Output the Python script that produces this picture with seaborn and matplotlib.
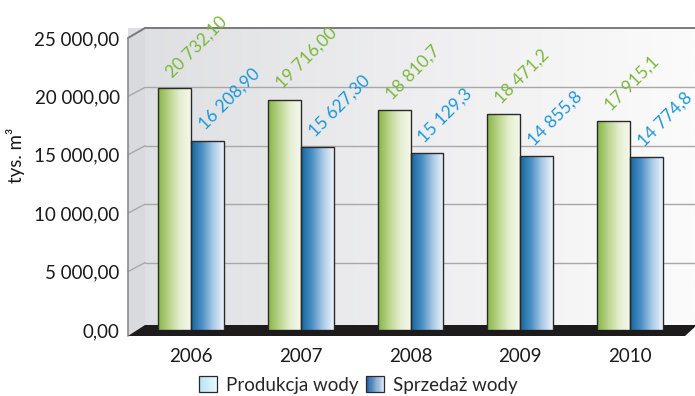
import numpy as np
import pandas as pd
import matplotlib
matplotlib.use("Agg")
import matplotlib.pyplot as plt
import seaborn as sns
from matplotlib.patches import Polygon, Rectangle, Patch
from matplotlib.colors import LinearSegmentedColormap, to_rgb
from matplotlib.legend_handler import HandlerBase
from matplotlib.ticker import FuncFormatter

# ---- data ----
years = ["2006", "2007", "2008", "2009", "2010"]
produkcja = [20732.10, 19716.00, 18810.7, 18471.2, 17915.1]
sprzedaz = [16208.90, 15627.30, 15129.3, 14855.8, 14774.8]
produkcja_labels = ["20 732,10", "19 716,00", "18 810,7", "18 471,2", "17 915,1"]
sprzedaz_labels = ["16 208,90", "15 627,30", "15 129,3", "14 855,8", "14 774,8"]
series_names = ["Produkcja wody", "Sprzedaż wody"]
y_ticks = [0, 5000, 10000, 15000, 20000, 25000]

df = pd.DataFrame({
    "rok": years * 2,
    "seria": [series_names[0]] * 5 + [series_names[1]] * 5,
    "wartosc": produkcja + sprzedaz,
})

sns.set_theme(style="white")
plt.rcParams["font.family"] = ["Lato", "DejaVu Sans"]

W, H = 695, 396
fig = plt.figure(figsize=(W / 100, H / 100), dpi=100)

# pixel geometry
AX_L, AX_R, AX_T, AX_B = 128, 695, 38, 330
DX, DY = 17, 10  # 3D depth offset


def fx(px):
    return (px - AX_L) / (AX_R - AX_L)


def fy(py):
    return (AX_B - py) / (AX_B - AX_T)


# background wall
bg = fig.add_axes([AX_L / W, (H - 336) / H, (AX_R - AX_L) / W, (336 - 28) / H], zorder=-1)
wall = LinearSegmentedColormap.from_list("wall", ["#dedfe2", "#eeeef0", "#fbfbfb"])
grad = np.linspace(0, 1, 256).reshape(1, -1)
bg.imshow(grad, cmap=wall, aspect="auto", extent=[0, 1, 0, 1])
bg.set_xlim(0, 1)
bg.set_ylim(0, 1)
bg.axis("off")

ax = fig.add_axes([AX_L / W, (H - AX_B) / H, (AX_R - AX_L) / W, (AX_B - AX_T) / H])
ax.patch.set_alpha(0)

sns.barplot(data=df, x="rok", y="wartosc", hue="seria", order=years,
            hue_order=series_names, width=0.6, dodge=True, legend=False,
            ax=ax, zorder=3)

ax.set_xlim(-0.574, 4.592)
ax.set_ylim(0, 25000)

# side wall (left)
side = Polygon([(fx(128), fy(38)), (fx(145), fy(28)), (fx(145), fy(325)), (fx(128), fy(336))],
               closed=True, transform=ax.transAxes, facecolor="#d9dadd", edgecolor="none",
               zorder=0.2, clip_on=False)
ax.add_patch(side)

# grid lines on wall
for v in y_ticks[1:]:
    yf = v / 25000
    off = DY if v == 25000 else 9
    yb = yf + off / (AX_B - AX_T)
    col = "#7a7a7a" if v == 25000 else "#a8a8a8"
    lw = 1.4 if v == 25000 else 1.0
    ax.plot([0, fx(AX_L + DX)], [yf, yb], color=col, lw=lw, transform=ax.transAxes,
            clip_on=False, zorder=0.5)
    ax.plot([fx(AX_L + DX), 1.0], [yb, yb], color=col, lw=lw, transform=ax.transAxes,
            clip_on=False, zorder=0.5)

# left front axis line
ax.plot([0, 0], [fy(38), fy(336)], color="#8a8a8a", lw=1.2, transform=ax.transAxes,
        clip_on=False, zorder=0.6)

# floor
floor = Polygon([(fx(128), fy(336)), (fx(145), fy(325)), (fx(697), fy(325)), (fx(685), fy(336))],
                closed=True, transform=ax.transAxes, facecolor="#1e1b1c", edgecolor="none",
                zorder=1, clip_on=False)
ax.add_patch(floor)

# gradient bars
green = LinearSegmentedColormap.from_list("g", ["#86b443", "#b9d48a", "#e4eed0", "#f5f8ec"])
blue = LinearSegmentedColormap.from_list("b", ["#13679f", "#4a8fc4", "#a9c9e6", "#eef4fb"])
for cont, cmap in zip(ax.containers, [green, blue]):
    for bar in cont:
        x, y = bar.get_x(), bar.get_y()
        w, h = bar.get_width(), bar.get_height()
        im = ax.imshow(grad, cmap=cmap, aspect="auto", extent=[x, x + w, y, y + h],
                       zorder=3)
        im.set_clip_path(bar)
        bar.set_facecolor("none")
        bar.set_edgecolor("#2a2a2a")
        bar.set_linewidth(1.0)
        bar.set_zorder(4)

ax.set_xlim(-0.574, 4.592)
ax.set_ylim(0, 25000)
ax.set_aspect("auto")

# value labels
for cont, labels, col in zip(ax.containers, [produkcja_labels, sprzedaz_labels],
                             ["#7ab83c", "#1c98d6"]):
    for bar, lab in zip(cont, labels):
        cx = bar.get_x() + bar.get_width() / 2
        top = bar.get_height()
        ax.text(cx - 0.02, top + 850, lab, rotation=45, rotation_mode="anchor",
                ha="left", va="baseline", color=col, fontsize=12.5, zorder=5,
                clip_on=False)

# axes styling
for s in ax.spines.values():
    s.set_visible(False)
ax.set_yticks(y_ticks)
ax.yaxis.set_major_formatter(FuncFormatter(
    lambda v, p: f"{v:,.2f}".replace(",", " ").replace(".", ",")))
ax.tick_params(axis="y", length=0, pad=6, labelsize=13.5, labelcolor="#1a1a1a")
ax.tick_params(axis="x", length=0, pad=13, labelsize=13.5, labelcolor="#1a1a1a")
ax.set_xlabel("")
ax.set_ylabel("tys. m³", fontsize=13.5, color="#1a1a1a")
ax.yaxis.set_label_coords(fx(25), fy(155))


# legend with gradient squares
class GradHandler(HandlerBase):
    def __init__(self, c0, c1, n=16):
        super().__init__()
        self.c0, self.c1, self.n = np.array(to_rgb(c0)), np.array(to_rgb(c1)), n

    def create_artists(self, legend, orig_handle, xdescent, ydescent, width, height,
                       fontsize, trans):
        arts = []
        for i in range(self.n):
            t = i / (self.n - 1)
            c = self.c0 * (1 - t) + self.c1 * t
            arts.append(Rectangle((-xdescent + width * i / self.n, -ydescent),
                                  width / self.n + 0.4, height, facecolor=c,
                                  edgecolor="none", transform=trans))
        arts.append(Rectangle((-xdescent, -ydescent), width, height, facecolor="none",
                              edgecolor="#2a2a2a", lw=0.9, transform=trans))
        return arts


h1 = Patch(label=series_names[0])
h2 = Patch(label=series_names[1])
fig.legend(handles=[h1, h2], labels=series_names, loc="center",
           bbox_to_anchor=(358 / W, 1 - 385 / H), ncol=2, frameon=False,
           fontsize=13.5, handlelength=1.0, handleheight=0.95, handletextpad=0.45,
           columnspacing=0.4,
           handler_map={h1: GradHandler("#b5e2f7", "#eaf7fd"),
                        h2: GradHandler("#1a5ea3", "#dce8f5")})

fig.savefig("out.png", dpi=100)
